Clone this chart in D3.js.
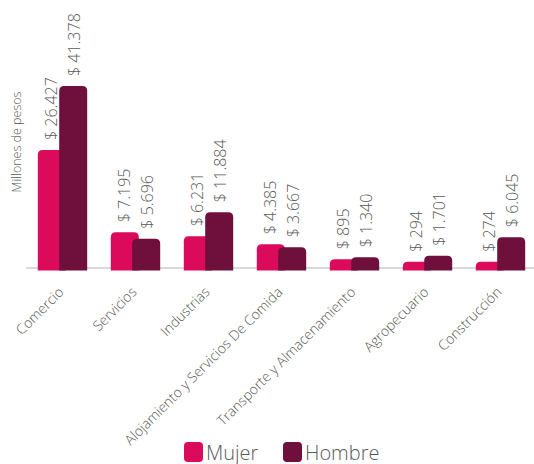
<!DOCTYPE html>
<html>
<head>
<meta charset="utf-8">
<script src="https://cdn.jsdelivr.net/npm/d3@7"></script>
<style>
  body { margin: 0; background: #fff; }
  svg { font-family: "Open Sans", sans-serif; }
</style>
</head>
<body>
<div id="chart"></div>
<script>
// data
var categories = ['Comercio', 'Servicios', 'Industrias', 'Alojamiento y Servicios De Comida',
  'Transporte y Almacenamiento', 'Agropecuario', 'Construcción'];
var mujer = [26427, 7195, 6231, 4385, 895, 294, 274];
var hombre = [41378, 5696, 11884, 3667, 1340, 1701, 6045];
var seriesNames = ['Mujer', 'Hombre'];
var seriesColors = ['#dc0a5a', '#6e0f3c'];

var width = 534, height = 464;
var baseY = 268;

var svg = d3.select('#chart')
  .append('svg')
  .attr('width', width)
  .attr('height', height);

var x = d3.scaleBand()
  .domain(categories)
  .range([26, 537])
  .padding(0);

// zero sits a little above the baseline, bars get a small stub
var y = d3.scaleLinear()
  .domain([0, 41378])
  .range([263, 86]);

var barW = 28;
var barBottom = baseY + 2.5;

function topRounded(x0, y0, w, h, r) {
  r = Math.min(r, h, w / 2);
  return 'M' + x0 + ',' + (y0 + h) +
    'V' + (y0 + r) +
    'Q' + x0 + ',' + y0 + ' ' + (x0 + r) + ',' + y0 +
    'H' + (x0 + w - r) +
    'Q' + (x0 + w) + ',' + y0 + ' ' + (x0 + w) + ',' + (y0 + r) +
    'V' + (y0 + h) + 'Z';
}

var data = categories.map(function(c, i) {
  return { cat: c, values: [mujer[i], hombre[i]] };
});

// baseline
svg.append('line')
  .attr('x1', 26).attr('x2', width)
  .attr('y1', baseY).attr('y2', baseY)
  .style('stroke', '#d9d9d9')
  .style('stroke-width', 2);

var groups = svg.selectAll('g.group')
  .data(data)
  .enter()
  .append('g')
  .attr('class', 'group')
  .attr('transform', d => 'translate(' + (x(d.cat) + x.bandwidth() / 2) + ',0)');

// mujer first, hombre overlaps it
[0, 1].forEach(function(s) {
  groups.append('path')
    .attr('class', 'bar s' + s)
    .style('fill', seriesColors[s])
    .attr('d', function(d) {
      var left = s === 0 ? -(barW - 3.3) : -3.3;
      var top = y(d.values[s]);
      return topRounded(left, top, barW, barBottom - top, 5);
    });
});

// value labels
[0, 1].forEach(function(s) {
  groups.append('text')
    .attr('class', 'value')
    .attr('transform', function(d) {
      var lx = s === 0 ? -11.5 : 11.5;
      return 'translate(' + lx + ',' + (y(d.values[s]) - 10) + ') rotate(-90)';
    })
    .attr('dy', '0.35em')
    .style('font-size', '16px')
    .style('font-weight', 300)
    .style('fill', '#595959')
    .text(d => '$ ' + d3.format(',')(d.values[s]).replace(/,/g, '.'));
});

// category axis
var xAxis = svg.append('g')
  .attr('transform', 'translate(0,' + baseY + ')')
  .call(d3.axisBottom(x).tickSize(0));
xAxis.select('.domain').remove();
xAxis.selectAll('text')
  .attr('x', 0).attr('y', 0).attr('dy', 0)
  .attr('transform', 'translate(2,25) rotate(-45)')
  .style('text-anchor', 'end')
  .style('font-family', '"Open Sans", sans-serif')
  .style('font-size', '14px')
  .style('font-weight', 300)
  .style('fill', '#595959');

// y title
svg.append('text')
  .attr('transform', 'translate(17,142) rotate(-90)')
  .attr('dy', '0.35em')
  .style('text-anchor', 'middle')
  .style('font-size', '12.5px')
  .style('font-weight', 300)
  .style('fill', '#595959')
  .text('Millones de pesos');

// legend
var legendX = [184, 283];
var legend = svg.selectAll('g.legend')
  .data(seriesNames)
  .enter()
  .append('g')
  .attr('class', 'legend')
  .attr('transform', (d, i) => 'translate(' + legendX[i] + ',442)');

legend.append('rect')
  .attr('width', 19).attr('height', 20)
  .attr('rx', 4)
  .style('fill', (d, i) => seriesColors[i]);

legend.append('text')
  .attr('x', 22).attr('y', 17.5)
  .style('font-size', '20px')
  .style('font-weight', 300)
  .style('fill', '#595959')
  .text(d => d);
</script>
</body>
</html>
